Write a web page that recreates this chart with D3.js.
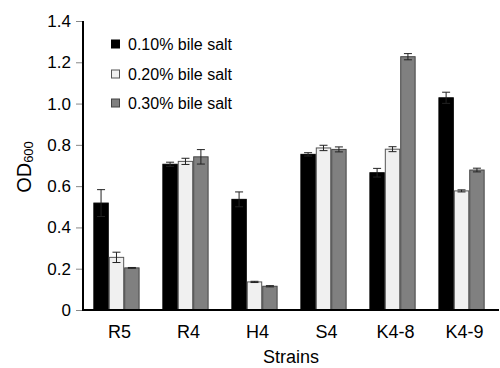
<!DOCTYPE html>
<html>
  <head>
    <script type="text/javascript" src="https://cdn.jsdelivr.net/npm/d3@7"></script>
    <style>
      body { margin: 0; background: #fff; }
      text { font-family: "Liberation Sans", Arial, sans-serif; fill: #000; }
    </style>
  </head>
  <body>
    <script type="text/javascript">
      // data
      const strains = ["R5", "R4", "H4", "S4", "K4-8", "K4-9"];
      const series = ["0.10% bile salt", "0.20% bile salt", "0.30% bile salt"];
      const low = [0.518, 0.706, 0.536, 0.754, 0.665, 1.028];
      const mid = [0.255, 0.72, 0.136, 0.785, 0.779, 0.577];
      const high = [0.204, 0.742, 0.115, 0.778, 1.227, 0.678];
      const lowErr = [0.065, 0.01, 0.036, 0.008, 0.021, 0.027];
      const midErr = [0.025, 0.015, 0.003, 0.013, 0.012, 0.005];
      const highErr = [0.002, 0.035, 0.003, 0.012, 0.015, 0.009];
      const yTicks = [0, 0.2, 0.4, 0.6, 0.8, 1.0, 1.2, 1.4];

      const fills = ["#000000", "#f0f0f0", "#808080"];
      const strokes = ["#000000", "#555555", "#444444"];

      const W = 500, H = 368;
      const plotL = 83, plotR = 499, plotT = 21, plotB = 310;

      const svg = d3.select("body").append("svg")
        .attr("width", W)
        .attr("height", H);

      const y = d3.scaleLinear().domain([0, 1.4]).range([plotB, plotT]);

      const x0 = d3.scaleBand()
        .domain(strains)
        .range([plotL, 495])
        .paddingInner(0.33)
        .paddingOuter(0.15);

      const x1 = d3.scaleBand()
        .domain([0, 1, 2])
        .range([0, x0.bandwidth()]);

      const rows = strains.map(function (s, i) {
        return [
          { s: s, k: 0, v: low[i], e: lowErr[i] },
          { s: s, k: 1, v: mid[i], e: midErr[i] },
          { s: s, k: 2, v: high[i], e: highErr[i] }
        ];
      });

      const groups = svg.selectAll("g.grp")
        .data(rows)
        .enter()
        .append("g")
        .attr("class", "grp")
        .attr("transform", function (d) {
          return "translate(" + x0(d[0].s) + ",0)";
        });

      groups.selectAll("rect")
        .data(function (d) { return d; })
        .enter()
        .append("rect")
        .attr("x", function (d) { return x1(d.k) + 0.5; })
        .attr("y", function (d) { return y(d.v); })
        .attr("width", x1.bandwidth() - 1)
        .attr("height", function (d) { return plotB - y(d.v); })
        .attr("fill", function (d) { return fills[d.k]; })
        .attr("stroke", function (d) { return strokes[d.k]; })
        .attr("stroke-width", 1);

      // error bars
      const eb = groups.selectAll("g.err")
        .data(function (d) { return d; })
        .enter()
        .append("g")
        .attr("class", "err")
        .attr("stroke", "#222")
        .attr("stroke-width", 1);

      const cx = function (d) { return x1(d.k) + x1.bandwidth() / 2; };
      eb.append("line")
        .attr("x1", cx).attr("x2", cx)
        .attr("y1", function (d) { return y(d.v + d.e); })
        .attr("y2", function (d) { return y(d.v - d.e); });
      eb.append("line")
        .attr("x1", function (d) { return cx(d) - 4; })
        .attr("x2", function (d) { return cx(d) + 4; })
        .attr("y1", function (d) { return y(d.v + d.e); })
        .attr("y2", function (d) { return y(d.v + d.e); });
      eb.append("line")
        .attr("x1", function (d) { return cx(d) - 4; })
        .attr("x2", function (d) { return cx(d) + 4; })
        .attr("y1", function (d) { return y(d.v - d.e); })
        .attr("y2", function (d) { return y(d.v - d.e); });

      // y axis
      const yAxis = d3.axisLeft(y)
        .tickValues(yTicks)
        .tickSize(7)
        .tickPadding(5)
        .tickFormat(function (d) { return d === 0 ? "0" : d3.format(".1f")(d); });
      const ga = svg.append("g")
        .attr("transform", "translate(" + plotL + ",0)")
        .call(yAxis);
      ga.select(".domain").remove();
      ga.selectAll(".tick line").attr("stroke", "#888");
      ga.selectAll(".tick text")
        .style("font-size", "17px")
        .attr("fill", "#000");
      svg.append("line")
        .attr("x1", plotL).attr("x2", plotL)
        .attr("y1", plotT).attr("y2", plotB + 1)
        .attr("stroke", "#000").attr("stroke-width", 2);

      // x axis
      svg.append("line")
        .attr("x1", plotL - 1).attr("x2", plotR)
        .attr("y1", plotB).attr("y2", plotB)
        .attr("stroke", "#000").attr("stroke-width", 2);
      svg.selectAll("text.cat")
        .data(strains)
        .enter()
        .append("text")
        .attr("class", "cat")
        .attr("x", function (d) { return x0(d) + x0.bandwidth() / 2 + 3; })
        .attr("y", 338)
        .attr("text-anchor", "middle")
        .style("font-size", "18px")
        .text(function (d) { return d; });

      svg.append("text")
        .attr("x", (plotL + plotR) / 2)
        .attr("y", 363)
        .attr("text-anchor", "middle")
        .style("font-size", "18px")
        .text("Strains");

      const yl = svg.append("text")
        .attr("transform", "translate(31,167) rotate(-90)")
        .attr("text-anchor", "middle")
        .style("font-size", "20px");
      yl.append("tspan").text("OD");
      yl.append("tspan").attr("dy", 2).style("font-size", "13px").text("600");

      // legend
      const lg = svg.selectAll("g.leg")
        .data(series)
        .enter()
        .append("g")
        .attr("class", "leg")
        .attr("transform", function (d, i) {
          return "translate(111," + [44, 74, 103][i] + ")";
        });
      lg.append("rect")
        .attr("x", 0.5).attr("y", -4)
        .attr("width", 8).attr("height", 8)
        .attr("fill", function (d, i) { return fills[i]; })
        .attr("stroke", function (d, i) { return strokes[i]; });
      lg.append("text")
        .attr("x", 17)
        .attr("y", 6)
        .style("font-size", "16px")
        .text(function (d) { return d; });
    </script>
  </body>
</html>
